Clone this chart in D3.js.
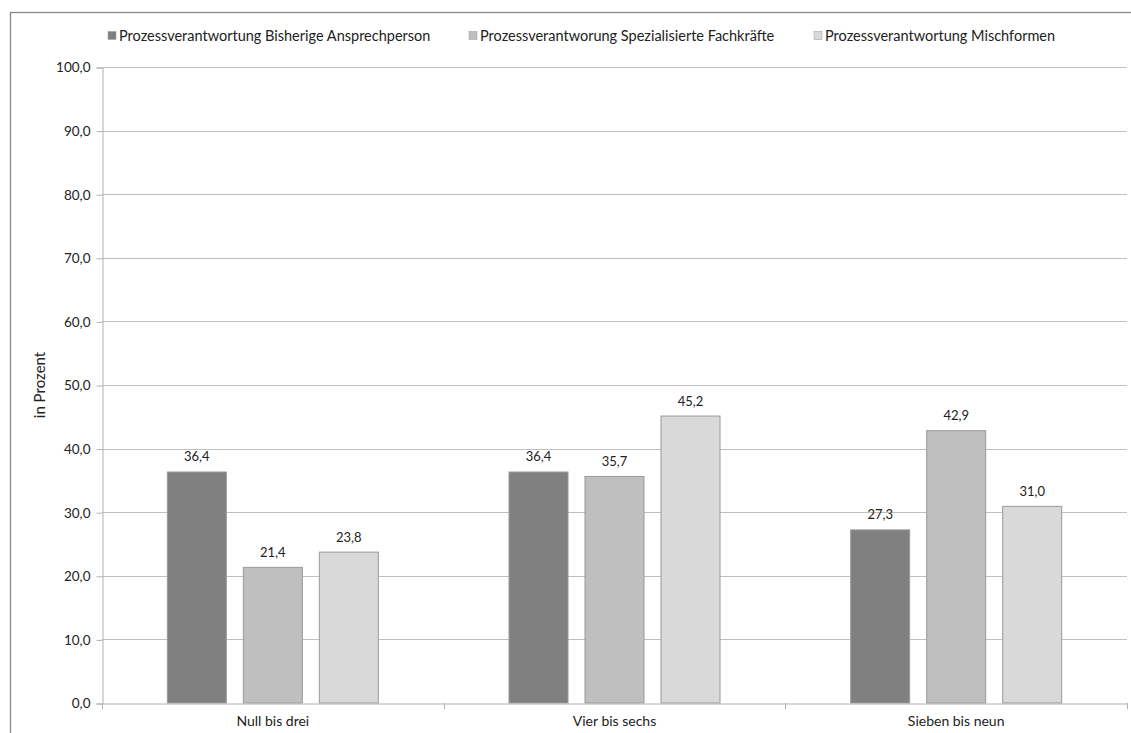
<!DOCTYPE html>
<html><head><meta charset="utf-8">
<script src="https://cdn.jsdelivr.net/npm/d3@7"></script>
<style>
body{margin:0;background:#fff;}
text{font-family:Lato,"Open Sans",sans-serif;fill:#222;}
</style></head>
<body><svg id="c" width="1131" height="733"></svg>
<script>
const categories = ["Null bis drei", "Vier bis sechs", "Sieben bis neun"];
const seriesNames = ["Prozessverantwortung Bisherige Ansprechperson", "Prozessverantworung Spezialisierte Fachkräfte", "Prozessverantwortung Mischformen"];
const seriesColors = ["#808080", "#bfbfbf", "#d9d9d9"];
const bisherige = [36.4, 36.4, 27.3];
const spezialisierte = [21.4, 35.7, 42.9];
const mischformen = [23.8, 45.2, 31.0];
const yTicks = [0, 10, 20, 30, 40, 50, 60, 70, 80, 90, 100];
const legendX = [108, 469, 814];

const series = [bisherige, spezialisierte, mischformen];
const svg = d3.select("#c");
const fmt = v => v.toFixed(1).replace(".", ",");

// outer frame
svg.append("rect").attr("x", 10.5).attr("y", 12.5).attr("width", 1140).attr("height", 740)
  .attr("fill", "none").attr("stroke", "#888").attr("stroke-width", 1.3);

const L = 102, R = 1127, T = 67, B = 703;
const x = d3.scaleBand().domain(categories).range([L, R]).paddingInner(0).paddingOuter(0);
const y = d3.scaleLinear().domain([0, 100]).range([B, T]);
const bw = 60, gap = 16;
const groupW = bw * 3 + gap * 2;

// gridlines
svg.append("g").selectAll("line").data(yTicks.filter(d => d > 0)).join("line")
  .attr("x1", L).attr("x2", R).attr("y1", d => Math.round(y(d)) + 0.5).attr("y2", d => Math.round(y(d)) + 0.5)
  .attr("stroke", "#c0c0c0").attr("stroke-width", 1);

// y axis
const ya = svg.append("g").attr("transform", `translate(${L + 0.5},0.5)`)
  .call(d3.axisLeft(y).tickValues(yTicks).tickFormat(fmt).tickSize(6).tickPadding(6));
ya.select(".domain").attr("stroke", "#b0b0b0");
ya.selectAll(".tick line").attr("stroke", "#b0b0b0");
ya.selectAll("text").style("font-size", "13.5px").style("font-family", "Lato, sans-serif").attr("fill", "#222");

// bars
series.forEach((vals, si) => {
  const g = svg.append("g");
  g.selectAll("rect").data(vals).join("rect")
    .attr("x", (d, i) => x(categories[i]) + (x.bandwidth() - groupW) / 2 + si * (bw + gap) + 0.5)
    .attr("y", d => y(d) + 0.5)
    .attr("width", bw - 1)
    .attr("height", d => B - y(d) - 0.5)
    .attr("fill", seriesColors[si]).attr("stroke", "#9a9a9a").attr("stroke-width", 1);
  g.selectAll("text").data(vals).join("text")
    .attr("x", (d, i) => x(categories[i]) + (x.bandwidth() - groupW) / 2 + si * (bw + gap) + bw / 2)
    .attr("y", d => y(d) - 10)
    .attr("text-anchor", "middle").style("font-size", "13px")
    .text(fmt);
});

// x axis
const xa = svg.append("g").attr("transform", `translate(0,${B + 0.5})`)
  .call(d3.axisBottom(x).tickSize(0).tickPadding(13));
xa.select(".domain").attr("stroke", "#b0b0b0");
xa.selectAll("text").style("font-size", "14px").style("font-family", "Lato, sans-serif").attr("fill", "#222");
// category boundary ticks
svg.append("g").selectAll("line").data(d3.range(categories.length + 1)).join("line")
  .attr("x1", i => Math.round(L + i * x.step()) + 0.5).attr("x2", i => Math.round(L + i * x.step()) + 0.5)
  .attr("y1", B).attr("y2", B + 6).attr("stroke", "#b0b0b0");

// y label
svg.append("text").attr("transform", "translate(45,385) rotate(-90)")
  .attr("text-anchor", "middle").style("font-size", "15px").text("in Prozent");

// legend
const lg = svg.append("g");
seriesNames.forEach((n, i) => {
  lg.append("rect").attr("x", legendX[i]).attr("y", 31.5).attr("width", 8).attr("height", 8)
    .attr("fill", seriesColors[i]).attr("stroke", "#9a9a9a").attr("stroke-width", 0.5);
  lg.append("text").attr("x", legendX[i] + 11).attr("y", 40.5).style("font-size", "14.5px").text(n);
});
</script></body></html>
